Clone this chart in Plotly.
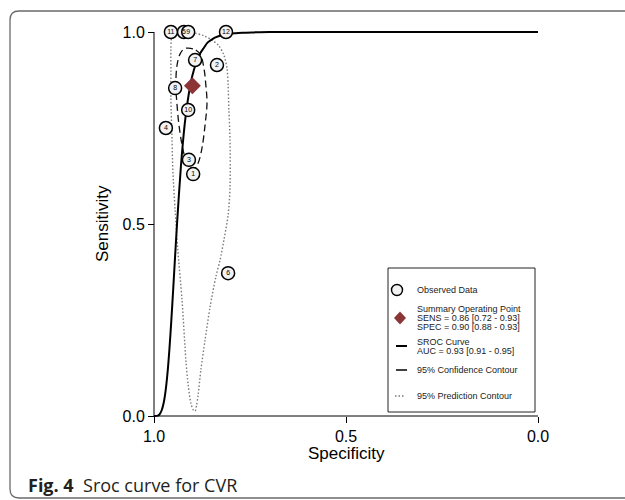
import plotly.graph_objects as go

# ---- study-level observed data (specificity, sensitivity) ----
study_ids = ["1", "2", "3", "4", "5", "6", "7", "8", "9", "10", "11", "12"]
study_spec = [0.898, 0.836, 0.909, 0.969, 0.922, 0.807, 0.893, 0.945, 0.911, 0.911, 0.956, 0.8125]
study_sens = [0.630, 0.914, 0.667, 0.750, 1.000, 0.372, 0.927, 0.854, 1.000, 0.797, 1.000, 1.000]

# ---- summary operating point and AUC ----
sens_hat, sens_lo, sens_hi = 0.86, 0.72, 0.93
spec_hat, spec_lo, spec_hi = 0.90, 0.88, 0.93
auc_hat, auc_lo, auc_hi = 0.93, 0.91, 0.95

# ---- SROC curve ----
sroc_spec = [1.000, 0.990, 0.985, 0.980, 0.975, 0.970, 0.965, 0.960, 0.955, 0.950,
             0.945, 0.940, 0.930, 0.920, 0.910, 0.900, 0.890, 0.880, 0.870, 0.860,
             0.850, 0.840, 0.820, 0.800, 0.770, 0.740, 0.700, 0.600, 0.400, 0.200, 0.000]
sroc_sens = [0.000, 0.001, 0.005, 0.015, 0.033, 0.064, 0.110, 0.172, 0.247, 0.330,
             0.417, 0.501, 0.649, 0.760, 0.835, 0.887, 0.920, 0.944, 0.959, 0.973,
             0.980, 0.986, 0.993, 0.996, 0.998, 0.999, 1.000, 1.000, 1.000, 1.000, 1.000]

# ---- 95% confidence contour ----
conf_spec = [0.911, 0.891, 0.878, 0.870, 0.865, 0.862, 0.867, 0.875, 0.885, 0.896,
             0.909, 0.919, 0.927, 0.935, 0.940, 0.943, 0.940, 0.932, 0.922, 0.911]
conf_sens = [0.958, 0.953, 0.938, 0.906, 0.862, 0.815, 0.758, 0.698, 0.659, 0.643,
             0.648, 0.672, 0.706, 0.758, 0.810, 0.862, 0.914, 0.943, 0.956, 0.958]

# ---- 95% prediction contour ----
pred_spec = [0.953, 0.938, 0.917, 0.893, 0.870, 0.849, 0.831, 0.818, 0.810, 0.807,
             0.805, 0.802, 0.802, 0.807, 0.818, 0.828, 0.839, 0.854, 0.867, 0.878,
             0.885, 0.889, 0.893, 0.898, 0.904, 0.911, 0.917, 0.927, 0.938, 0.945,
             0.951, 0.953, 0.956, 0.956, 0.956, 0.953]
pred_sens = [0.987, 0.997, 0.998, 0.997, 0.990, 0.979, 0.964, 0.940, 0.906, 0.862,
             0.797, 0.719, 0.596, 0.523, 0.458, 0.406, 0.362, 0.284, 0.198, 0.120,
             0.055, 0.029, 0.013, 0.016, 0.034, 0.081, 0.146, 0.302, 0.432, 0.536,
             0.641, 0.719, 0.823, 0.901, 0.953, 0.987]

tick_vals = [1.0, 0.5, 0.0]
tick_text = ["1.0", "0.5", "0.0"]

# ---- page geometry (pixels) ----
W, H = 625, 500
ML, MR, MT, MB = 150, 83, 28, 80
PW, PH = W - ML - MR, H - MT - MB
PAD = 4 / 384.0  # small range padding so lines on the border are not clipped


def fx(xpix):
    return (xpix - ML) / PW


def fy(ypix):
    return (H - MB - ypix) / PH


AXFONT = "Liberation Sans, Arial, sans-serif"

fig = go.Figure()

fig.add_trace(go.Scatter(
    x=pred_spec, y=pred_sens, mode="lines", line_shape="spline",
    line=dict(color="#7a7a7a", width=1.4, dash="1.5px,2px", smoothing=0.8),
    hoverinfo="skip", showlegend=False))

fig.add_trace(go.Scatter(
    x=conf_spec, y=conf_sens, mode="lines", line_shape="spline",
    line=dict(color="#111111", width=1.3, dash="7px,4px"),
    hoverinfo="skip", showlegend=False))

fig.add_trace(go.Scatter(
    x=sroc_spec, y=sroc_sens, mode="lines", line_shape="spline",
    line=dict(color="#000000", width=2, smoothing=0.8),
    hoverinfo="skip", showlegend=False))

fig.add_trace(go.Scatter(
    x=study_spec, y=study_sens, mode="markers+text", text=study_ids,
    textposition="middle center",
    textfont=dict(family=AXFONT, size=7, color="#000000"),
    marker=dict(size=13, color="#f2f2f2", line=dict(color="#000000", width=1.5)),
    cliponaxis=False, hoverinfo="skip", showlegend=False))

fig.add_trace(go.Scatter(
    x=[spec_hat], y=[sens_hat], mode="markers",
    marker=dict(symbol="diamond", size=13, color="#8c3536"),
    cliponaxis=False, hoverinfo="skip", showlegend=False))

shapes = []
# axis lines spanning 0..1
shapes.append(dict(type="line", xref="x", yref="y", x0=1, x1=1, y0=0, y1=1,
                   line=dict(color="#000000", width=1)))
shapes.append(dict(type="line", xref="x", yref="y", x0=1, x1=0, y0=0, y1=0,
                   line=dict(color="#000000", width=1)))

# rounded outer frame
fl, ft, fb, fr, rr = 10, 11, 498, 660, 9
frame_path = (
    f"M {fx(fr)} {fy(ft)} L {fx(fl + rr)} {fy(ft)} "
    f"Q {fx(fl)} {fy(ft)} {fx(fl)} {fy(ft + rr)} "
    f"L {fx(fl)} {fy(fb - rr)} "
    f"Q {fx(fl)} {fy(fb)} {fx(fl + rr)} {fy(fb)} "
    f"L {fx(fr)} {fy(fb)}"
)
shapes.append(dict(type="path", xref="paper", yref="paper", path=frame_path,
                   line=dict(color="#6a6a6a", width=1.3)))

# legend box
shapes.append(dict(type="rect", xref="paper", yref="paper",
                   x0=fx(388), x1=fx(535), y0=fy(412), y1=fy(268),
                   line=dict(color="#222222", width=1), fillcolor="white"))
# legend symbols
cr = 5.5
shapes.append(dict(type="circle", xref="paper", yref="paper",
                   x0=fx(397 - cr), x1=fx(397 + cr), y0=fy(290 + cr), y1=fy(290 - cr),
                   line=dict(color="#000000", width=1.4), fillcolor="#f2f2f2"))
dx, dy, dcx, dcy = 6, 6.5, 400, 318
shapes.append(dict(type="path", xref="paper", yref="paper",
                   path=(f"M {fx(dcx)} {fy(dcy - dy)} L {fx(dcx + dx)} {fy(dcy)} "
                         f"L {fx(dcx)} {fy(dcy + dy)} L {fx(dcx - dx)} {fy(dcy)} Z"),
                   line=dict(width=0), fillcolor="#8c3536"))
shapes.append(dict(type="line", xref="paper", yref="paper",
                   x0=fx(396), x1=fx(407), y0=fy(346), y1=fy(346),
                   line=dict(color="#000000", width=2)))
shapes.append(dict(type="line", xref="paper", yref="paper",
                   x0=fx(396), x1=fx(407), y0=fy(370), y1=fy(370),
                   line=dict(color="#000000", width=1.5)))
shapes.append(dict(type="line", xref="paper", yref="paper",
                   x0=fx(395), x1=fx(405), y0=fy(396), y1=fy(396),
                   line=dict(color="#7a7a7a", width=1.4, dash="1.5px,2px")))

annotations = []
legend_lines = [
    ("Observed Data", 290),
    ("Summary Operating Point", 309),
    (f"SENS = {sens_hat:.2f} [{sens_lo:.2f} - {sens_hi:.2f}]", 318),
    (f"SPEC = {spec_hat:.2f} [{spec_lo:.2f} - {spec_hi:.2f}]", 327),
    ("SROC Curve", 342),
    (f"AUC = {auc_hat:.2f} [{auc_lo:.2f} - {auc_hi:.2f}]", 351),
    ("95% Confidence Contour", 370),
    ("95% Prediction Contour", 396),
]
for txt, ypix in legend_lines:
    annotations.append(dict(xref="paper", yref="paper", x=fx(415), y=fy(ypix),
                            xanchor="left", yanchor="middle", text=txt, showarrow=False,
                            font=dict(family=AXFONT, size=9, color="#222222")))

# axis titles
annotations.append(dict(xref="paper", yref="paper", x=fx(346), y=fy(453),
                        xanchor="center", yanchor="middle", text="Specificity",
                        showarrow=False, font=dict(family=AXFONT, size=17, color="#000000")))
annotations.append(dict(xref="paper", yref="paper", x=fx(102), y=fy(224),
                        xanchor="center", yanchor="middle", text="Sensitivity",
                        textangle=-90, showarrow=False,
                        font=dict(family=AXFONT, size=17, color="#000000")))

# figure caption
annotations.append(dict(xref="paper", yref="paper", x=fx(26), y=fy(485),
                        xanchor="left", yanchor="middle",
                        text="<b>Fig. 4</b>\u00a0\u00a0Sroc curve for CVR",
                        showarrow=False,
                        font=dict(family="Open Sans, sans-serif", size=18, color="#231f20")))

fig.update_layout(
    width=W, height=H,
    margin=dict(l=ML, r=MR, t=MT, b=MB, pad=0),
    paper_bgcolor="white", plot_bgcolor="white",
    shapes=shapes, annotations=annotations,
    xaxis=dict(range=[1 + PAD, -PAD], anchor="free", position=fy(416),
               showline=False, showgrid=False, zeroline=False,
               ticks="outside", ticklen=6, tickwidth=1, tickcolor="#000000",
               tickvals=tick_vals, ticktext=tick_text,
               tickfont=dict(family=AXFONT, size=16, color="#000000")),
    yaxis=dict(range=[-PAD, 1 + PAD], anchor="free", position=fx(154),
               showline=False, showgrid=False, zeroline=False,
               ticks="outside", ticklen=6, tickwidth=1, tickcolor="#000000",
               tickvals=tick_vals, ticktext=tick_text,
               tickfont=dict(family=AXFONT, size=16, color="#000000")),
)

fig.write_html("out.html")
